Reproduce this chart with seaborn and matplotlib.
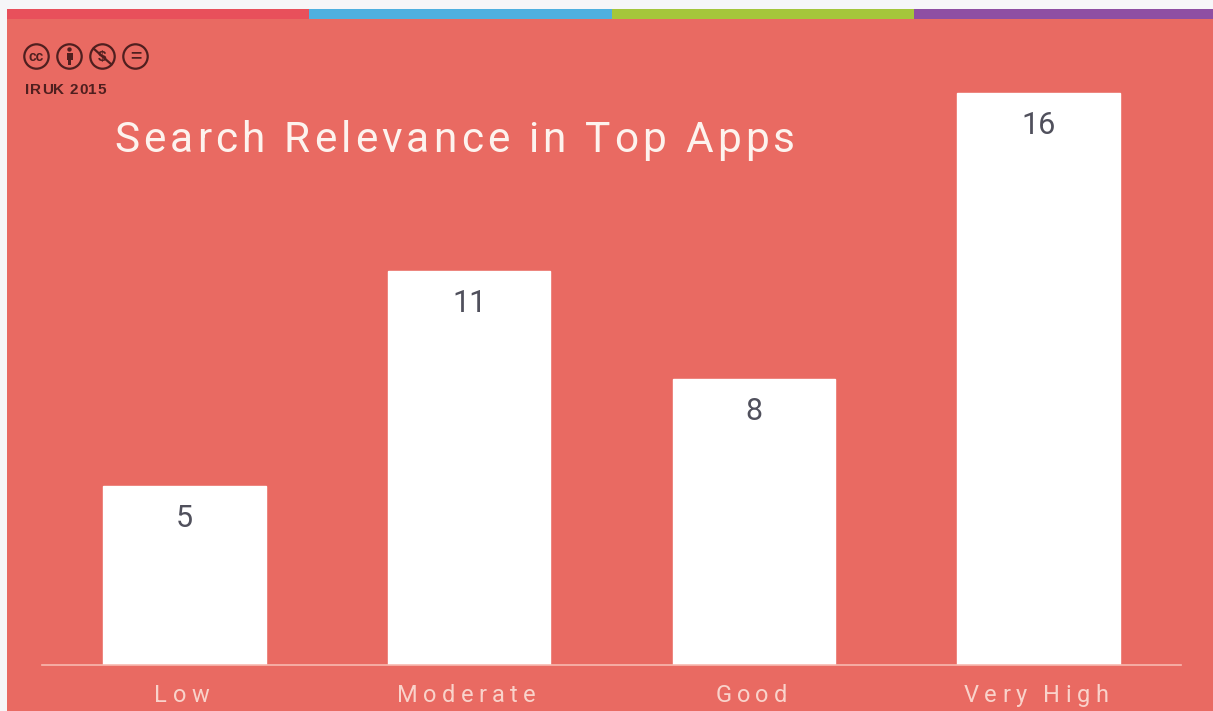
import types

import matplotlib
matplotlib.use("Agg")
import matplotlib.pyplot as plt
import pandas as pd
import seaborn as sns
from matplotlib.patches import Circle, Rectangle
from matplotlib.text import Text
from matplotlib.transforms import Bbox, IdentityTransform

categories = ["Low", "Moderate", "Good", "Very High"]
app_counts = [5, 11, 8, 16]
title_text = "Search Relevance in Top Apps"
credit_text = "IRUK 2015"

PAGE = "#F6F6F8"
PANEL = "#E96A62"
STRIPE_COLOURS = ["#E8505B", "#4FB0E0", "#A5C63B", "#8E4FA3"]
STRIPE_EDGES = [7, 309, 612, 914, 1213]
INK = "#4F1F1F"
LABEL = "#F9D3CB"
VALUE = "#50505C"
TITLE = "#FDF3EE"
W, H = 1213, 711


def track(text, extra_px):
    """Make a Text artist draw with letter spacing, keeping its string whole."""
    base_extent = Text.get_window_extent.__get__(text)

    def measure(renderer, s):
        return renderer.get_text_width_height_descent(s, text.get_fontproperties(), False)

    def advance(renderer, s):
        return measure(renderer, s + "x")[0] - measure(renderer, "x")[0]

    def extent(renderer=None, dpi=None):
        box = base_extent(renderer, dpi)
        grow = extra_px * (len(text.get_text()) - 1)
        if text.get_ha() == "center":
            return Bbox.from_extents(box.x0 - grow / 2 - extra_px / 2, box.y0,
                                     box.x1 + grow / 2 - extra_px / 2, box.y1)
        return Bbox.from_extents(box.x0, box.y0, box.x1 + grow, box.y1)

    def draw(renderer):
        s = text.get_text()
        if not s or not text.get_visible():
            return
        box = base_extent(renderer)
        # The layout reserves at least the descent of "lp" below the baseline
        descent = max(measure(renderer, s)[2], measure(renderer, "lp")[2])
        # Centred strings keep the spacing after their last letter in the measure
        total = extra_px * len(s)
        x0 = box.x0 - total / 2 if text.get_ha() == "center" else box.x0
        glyph = Text(0, 0, "", fontproperties=text.get_fontproperties(), color=text.get_color(),
                     ha="left", va="baseline", transform=IdentityTransform())
        glyph.set_figure(text.get_figure())
        for i, ch in enumerate(s):
            glyph.set_position((x0 + advance(renderer, s[:i]) + i * extra_px, box.y0 + descent))
            glyph.set_text(ch)
            glyph.draw(renderer)

    text.get_window_extent = extent
    text.draw = types.MethodType(lambda self, renderer: draw(renderer), text)


sns.set_theme(style="white")
plt.rcParams["font.family"] = ["Roboto", "DejaVu Sans"]

fig = plt.figure(figsize=(W / 100, H / 100), dpi=100, facecolor=PAGE)

# Pixel-addressed backdrop: panel, colour stripe and licence badges
bg = fig.add_axes([0, 0, 1, 1], zorder=0)
bg.set_xlim(0, W)
bg.set_ylim(H, 0)
bg.axis("off")
bg.add_patch(Rectangle((7, 9), W - 7, H - 9, color=PANEL, lw=0))
for left, right, colour in zip(STRIPE_EDGES, STRIPE_EDGES[1:], STRIPE_COLOURS):
    bg.add_patch(Rectangle((left, 9), right - left, 10, color=colour, lw=0))

for cx in (36.5, 69.5, 102.5, 135.5):
    bg.add_patch(Circle((cx, 56.5), 12.2, fill=False, ec=INK, lw=1.6))
badge = dict(color=INK, ha="center", va="center", family="Liberation Sans", weight="bold")
bg.text(36.5, 57, "cc", fontsize=10, **badge)
bg.add_patch(Circle((69.5, 49.5), 2.2, color=INK, lw=0))
bg.add_patch(Rectangle((66.5, 52.5), 6, 7, color=INK, lw=0))
bg.add_patch(Rectangle((68, 59), 3, 6, color=INK, lw=0))
bg.text(102.5, 56.5, "$", fontsize=11, **badge)
bg.plot([93.5, 111.5], [48.5, 64.5], color=INK, lw=1.6)
bg.text(135.5, 56.5, "=", fontsize=14, **badge)
credit = bg.text(25, 89.5, credit_text, color=INK, fontsize=11, weight="bold",
                 family="Liberation Sans", ha="left", va="center")
track(credit, 0.7)

# Main bar chart, axes spanning the baseline from x=42 to x=1181
ax = fig.add_axes([42 / W, 1 - 664.5 / H, (1181 - 42) / W, 643.5 / H], zorder=1)
ax.patch.set_alpha(0)
frame = pd.DataFrame({"relevance": categories, "apps": app_counts})
sns.barplot(data=frame, x="relevance", y="apps", color="white", saturation=1,
            width=0.57, ax=ax)
ax.set_xlim(-0.5, 3.5)
ax.set_ylim(0, 18)
ax.set_xlabel("")
ax.set_ylabel("")
ax.set_yticks([])
ax.tick_params(axis="x", length=0, pad=14, labelsize=17, labelcolor=LABEL)
sns.despine(ax=ax, left=True)
ax.spines["bottom"].set_color("#F8B9B0")
ax.spines["bottom"].set_linewidth(1.2)

for label in ax.get_xticklabels():
    track(label, 5.3)

for i, value in enumerate(app_counts):
    ax.annotate(str(value), (i, value), xytext=(0, -23.5), textcoords="offset points",
                ha="center", va="center", fontsize=22, color=VALUE)

title = fig.text(114 / W, 1 - 152 / H, title_text, color=TITLE,
                 fontsize=30.5, ha="left", va="baseline")
track(title, 4.15)

fig.savefig("out.png", dpi=100, facecolor=PAGE)
